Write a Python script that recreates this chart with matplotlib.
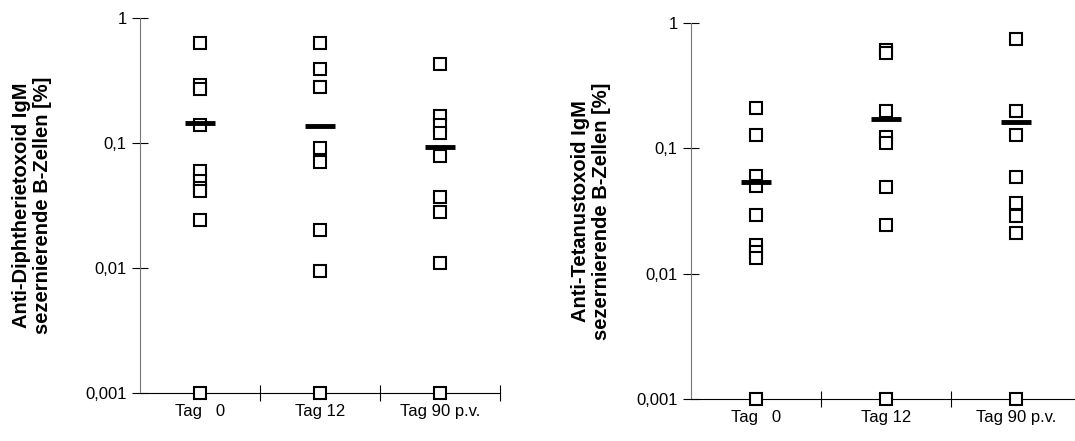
import numpy as np
import matplotlib.pyplot as plt
from matplotlib.ticker import FixedLocator, NullFormatter

plt.rcParams['font.family'] = ['Liberation Sans', 'DejaVu Sans']

groups = ['Tag   0', 'Tag 12', 'Tag 90 p.v.']

# Anti-Diphtherietoxoid IgM
diph_tag0 = [0.63, 0.29, 0.27, 0.14, 0.06, 0.05, 0.044, 0.041, 0.024, 0.001]
diph_tag12 = [0.63, 0.39, 0.28, 0.091, 0.070, 0.020, 0.0095, 0.001]
diph_tag90 = [0.43, 0.165, 0.14, 0.12, 0.078, 0.037, 0.028, 0.011, 0.001]
diph_mean = [0.145, 0.138, 0.0935]

# Anti-Tetanustoxoid IgM
tet_tag0 = [0.21, 0.128, 0.060, 0.050, 0.0295, 0.017, 0.015, 0.0133, 0.001]
tet_tag12 = [0.61, 0.575, 0.197, 0.124, 0.110, 0.0488, 0.0243, 0.001]
tet_tag90 = [0.75, 0.197, 0.128, 0.059, 0.0366, 0.0286, 0.0211, 0.001]
tet_mean = [0.054, 0.172, 0.162]

yticks = [0.001, 0.01, 0.1, 1]
ytick_labels = ['0,001', '0,01', '0,1', '1']

fig = plt.figure(figsize=(10.75, 4.41), dpi=100)
ax1 = fig.add_axes([140/1075, 1-393/441, 360/1075, 375/441])
ax2 = fig.add_axes([691/1075, 1-399/441, 390/1075, 376/441])


def panel(ax, cols, means, ylabel, lpad):
    for i, vals in enumerate(cols):
        ax.plot([i + 0.5] * len(vals), vals, 's', ms=8.6, mfc='white',
                mec='black', mew=1.5, clip_on=False, zorder=3)
    ax.plot(np.arange(len(means)) + 0.5, means, '_', ms=22, mew=3.5,
            color='black', clip_on=False, zorder=4)
    ax.set_yscale('log')
    ax.set_ylim(0.001, 1)
    ax.set_xlim(0, 3)
    ax.yaxis.set_major_locator(FixedLocator(yticks))
    ax.set_yticklabels(ytick_labels)
    ax.yaxis.set_minor_locator(FixedLocator([]))
    ax.xaxis.set_major_locator(FixedLocator([1, 2, 3]))
    ax.xaxis.set_major_formatter(NullFormatter())
    ax.xaxis.set_minor_locator(FixedLocator([0.5, 1.5, 2.5]))
    ax.set_xticklabels(groups, minor=True)
    ax.tick_params(axis='both', which='major', direction='inout', length=11,
                   width=0.8, labelsize=12)
    ax.tick_params(axis='x', which='minor', length=0, pad=8, labelsize=12)
    ax.tick_params(axis='y', pad=4)
    for s in ['top', 'right']:
        ax.spines[s].set_visible(False)
    ax.spines['left'].set_color('#777777')
    ax.spines['bottom'].set_color('black')
    ax.set_ylabel(ylabel, fontsize=14.5, fontweight='bold', labelpad=lpad,
                  linespacing=1.15)


panel(ax1, [diph_tag0, diph_tag12, diph_tag90], diph_mean,
      'Anti-Diphtherietoxoid IgM\nsezernierende B-Zellen [%]', 24)
panel(ax2, [tet_tag0, tet_tag12, tet_tag90], tet_mean,
      'Anti-Tetanustoxoid IgM\nsezernierende B-Zellen [%]', 18)

fig.savefig('out.png', dpi=100)
